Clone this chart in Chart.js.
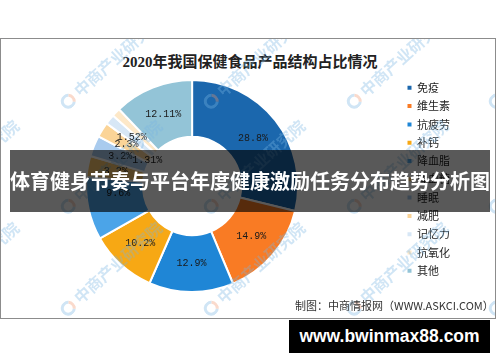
<!DOCTYPE html>
<html>
<head>
<meta charset="utf-8">
<script src="https://cdn.jsdelivr.net/npm/chart.js@4.4.1/dist/chart.umd.min.js"></script>
<style>
  html, body { margin: 0; padding: 0; background: #fff; }
  body { width: 500px; height: 362px; position: relative; overflow: hidden; }
  #frame { position: absolute; left: 0; top: 38px; width: 496px; height: 281px; border: 1px solid #8c8c8c; box-sizing: border-box; }
  #title { position: absolute; left: 0; width: 500px; top: 50px; text-align: center;
    font: bold 15px "Liberation Serif", "Noto Sans CJK SC", serif; color: #222; }
  #myViz { position: absolute; left: -16px; top: 75px; }
  #marks { position: absolute; left: 1px; top: 39px; width: 494px; height: 279px; overflow: hidden; pointer-events: none; }
  .wm { position: absolute; transform-origin: 0 50%; transform: rotate(-42deg); white-space: nowrap;
    font: bold 16px "Noto Sans CJK SC", sans-serif; color: rgba(120,180,225,0.35); line-height: 16px; }
  .wm i { display: inline-block; width: 9px; height: 9px; border: 3px solid rgba(120,180,225,0.35);
    border-right-color: rgba(240,150,110,0.35); border-radius: 50%; margin-right: 4px; vertical-align: -2px; }
  #source { position: absolute; left: 295px; top: 297px; font: 11px "Noto Sans CJK SC", sans-serif; color: #333; }
  #banner { position: absolute; left: 10px; top: 150px; width: 480px; height: 62px; background: rgba(0,0,0,0.65);
    color: #fff; font: bold 20px "Noto Sans CJK SC", sans-serif; line-height: 62px; text-align: center; white-space: nowrap; }
  #site { position: absolute; left: 289px; top: 320px; width: 201px; height: 33px; background: #000; color: #fff;
    font: bold 17.5px "Liberation Sans", sans-serif; line-height: 33px; text-align: center; }
</style>
</head>
<body>
<div id="frame"></div>
<div id="title">2020年我国保健食品产品结构占比情况</div>
<canvas id="myViz" width="476" height="222"></canvas>
<div id="marks"></div>
<div id="source">制图：中商情报网（WWW.ASKCI.COM）</div>
<div id="banner">体育健身节奏与平台年度健康激励任务分布趋势分析图</div>
<div id="site">www.bwinmax88.com</div>
<script>
// 品类与占比（%）
const categories = ['免疫', '维生素', '抗疲劳', '补钙', '降血脂', '降血糖', '睡眠', '减肥', '记忆力', '抗氧化', '其他'];
const shares = [28.8, 14.9, 12.9, 10.2, 9.6, 3.2, 3.2, 2.3, 1.52, 1.31, 12.11];
const shareLabels = ['28.8%', '14.9%', '12.9%', '10.2%', '9.6%', '3.2%', '3.2%', '2.3%', '1.52%', '1.31%', '12.11%'];

const colors = ['#1b67ad', '#f97b24', '#1f86d6', '#f7a814', '#4ba4e8', '#f7c46c',
  '#a9cbee', '#fbd497', '#d7e7f6', '#fde8c8', '#93c4d7'];

// сдвиги подписей, которые в оригинале стоят не по центру сектора
const labelShift = { 4: [2, -9], 9: [11, 28] };

// водяные знаки "中商产业研究院"
const wmCols = [-82, 61, 204, 347, 489];
const wmRows = [66, 171, 273];
const marks = document.getElementById('marks');
wmRows.forEach(y => wmCols.forEach(x => {
  const d = document.createElement('div');
  d.className = 'wm';
  d.style.left = x + 'px';
  d.style.top = (y - 8) + 'px';
  d.innerHTML = '<i></i>中商产业研究院';
  marks.appendChild(d);
}));

// подписи процентов на секторах
const sliceLabels = {
  id: 'sliceLabels',
  afterDatasetsDraw(chart) {
    const ctx = chart.ctx;
    const arcs = chart.getDatasetMeta(0).data;
    ctx.save();
    ctx.font = '10px "Liberation Mono", monospace';
    ctx.fillStyle = '#1a1a1a';
    ctx.textAlign = 'center';
    ctx.textBaseline = 'middle';
    arcs.forEach((arc, i) => {
      const p = arc.tooltipPosition();
      const s = labelShift[i] || [0, 0];
      ctx.fillText(shareLabels[i], p.x + s[0], p.y + s[1]);
    });
    ctx.restore();
  }
};

const ctx = document.getElementById('myViz').getContext('2d');
new Chart(ctx, {
  type: 'doughnut',
  data: {
    labels: categories,
    datasets: [{
      data: shares,
      backgroundColor: colors,
      borderColor: '#ffffff',
      borderWidth: 2
    }]
  },
  options: {
    responsive: false,
    animation: false,
    radius: 106,
    cutout: 51,
    layout: { padding: 0 },
    plugins: {
      title: { display: false },
      tooltip: { enabled: false },
      legend: {
        position: 'right',
        align: 'start',
        labels: {
          boxWidth: 4,
          boxHeight: 4,
          padding: 7.3,
          color: '#222',
          font: { size: 11, family: '"Noto Sans CJK SC", sans-serif' },
          generateLabels(chart) {
            return Chart.overrides.doughnut.plugins.legend.labels.generateLabels(chart)
              .map(l => Object.assign(l, { lineWidth: 0 }));
          }
        }
      }
    }
  },
  plugins: [sliceLabels]
});
</script>
</body>
</html>
